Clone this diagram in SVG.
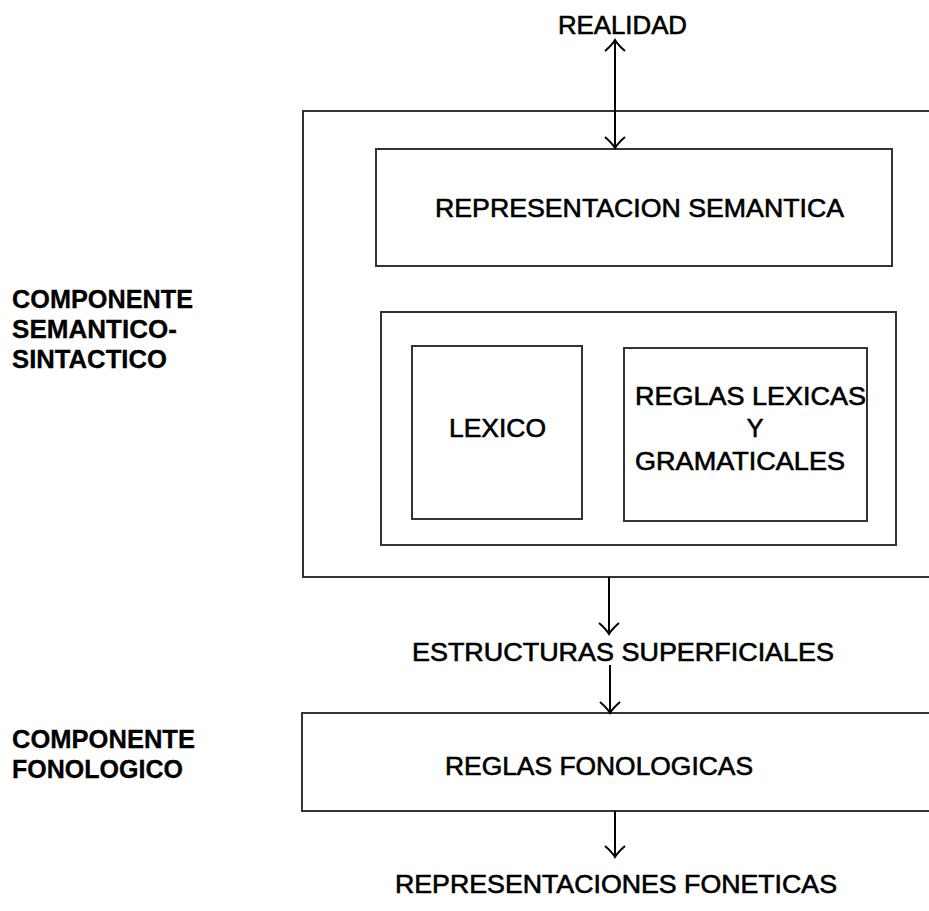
<svg xmlns="http://www.w3.org/2000/svg" width="929" height="911" viewBox="0 0 929 911">
<style>
.box{fill:none;stroke:#333;stroke-width:2}
.t{font-family:"Liberation Sans",Arial,sans-serif;font-size:25px;fill:#000;stroke:#000;stroke-width:0.6}
.b{font-weight:bold;stroke-width:0.3}
.c{stroke:#000;stroke-width:2;fill:none}
</style>
<defs>
<marker id="head" markerUnits="userSpaceOnUse" viewBox="-13 -12 16 24" refX="0" refY="0" markerWidth="16" markerHeight="24" orient="auto-start-reverse">
<path d="M-11,-10 Q-5,-3 0,0 Q-5,3 -11,10" fill="none" stroke="#000" stroke-width="2"/>
</marker>
</defs>
<rect width="929" height="911" fill="#fff"/>
<g id="realidad"><text class="t" x="558" y="34" textLength="129" lengthAdjust="spacingAndGlyphs">REALIDAD</text></g>
<g id="componente-semantico">
<rect class="box" x="303" y="111" width="640" height="466"/>
</g>
<g id="label-semantico">
<text class="t b" x="12" y="308" textLength="181" lengthAdjust="spacingAndGlyphs">COMPONENTE</text>
<text class="t b" x="12" y="338" textLength="165" lengthAdjust="spacingAndGlyphs">SEMANTICO-</text>
<text class="t b" x="12" y="368" textLength="155" lengthAdjust="spacingAndGlyphs">SINTACTICO</text>
</g>
<g id="representacion-semantica">
<rect class="box" x="376" y="149" width="516" height="117"/>
<text class="t" x="435" y="217" textLength="409" lengthAdjust="spacingAndGlyphs">REPRESENTACION SEMANTICA</text>
</g>
<g id="gramatica">
<rect class="box" x="381" y="312" width="515" height="233"/>
</g>
<g id="lexico">
<rect class="box" x="412" y="346" width="170" height="173"/>
<text class="t" x="449" y="437" textLength="97" lengthAdjust="spacingAndGlyphs">LEXICO</text>
</g>
<g id="reglas-lexicas">
<rect class="box" x="624" y="348" width="243" height="173"/>
<text class="t" x="635" y="405" textLength="231" lengthAdjust="spacingAndGlyphs">REGLAS LEXICAS</text>
<text class="t" x="755" y="437" text-anchor="middle">Y</text>
<text class="t" x="635" y="470" textLength="210" lengthAdjust="spacingAndGlyphs">GRAMATICALES</text>
</g>
<g id="estructuras"><text class="t" x="412" y="661" textLength="422" lengthAdjust="spacingAndGlyphs">ESTRUCTURAS SUPERFICIALES</text></g>
<g id="label-fonologico">
<text class="t b" x="12" y="748" textLength="183" lengthAdjust="spacingAndGlyphs">COMPONENTE</text>
<text class="t b" x="12" y="778" textLength="171" lengthAdjust="spacingAndGlyphs">FONOLOGICO</text>
</g>
<g id="reglas-fonologicas">
<rect class="box" x="302" y="713" width="640" height="98"/>
<text class="t" x="445" y="775" textLength="308" lengthAdjust="spacingAndGlyphs">REGLAS FONOLOGICAS</text>
</g>
<g id="representaciones"><text class="t" x="395" y="893" textLength="442" lengthAdjust="spacingAndGlyphs">REPRESENTACIONES FONETICAS</text></g>
<g id="connectors">
<line class="c" x1="615" y1="40" x2="615" y2="148" marker-start="url(#head)" marker-end="url(#head)"/>
<line class="c" x1="609" y1="577" x2="609" y2="634" marker-end="url(#head)"/>
<line class="c" x1="610" y1="665" x2="610" y2="713" marker-end="url(#head)"/>
<line class="c" x1="615" y1="811" x2="615" y2="857" marker-end="url(#head)"/>
</g>
</svg>
